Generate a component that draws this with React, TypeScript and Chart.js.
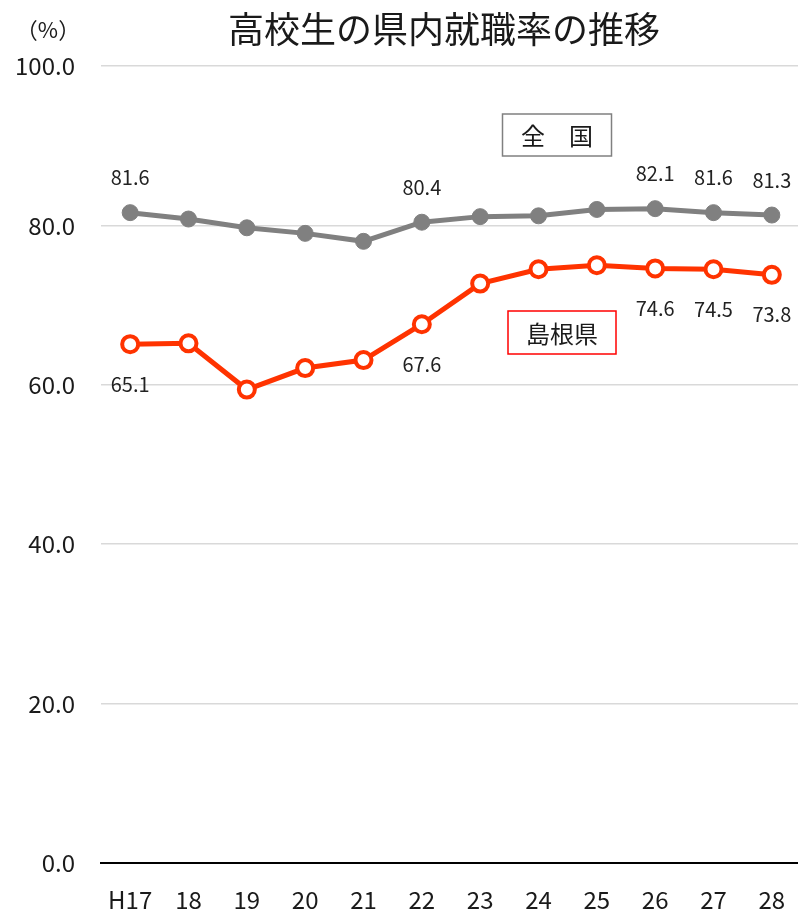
import React, { useEffect, useRef } from "react";
import { Chart, registerables } from "chart.js";

Chart.register(...registerables);

const categories = ["H17", "18", "19", "20", "21", "22", "23", "24", "25", "26", "27", "28"];
const nationalValues = [81.6, 80.8, 79.7, 79.0, 78.0, 80.4, 81.1, 81.2, 82.0, 82.1, 81.6, 81.3];
const shimaneValues = [65.1, 65.2, 59.4, 62.1, 63.1, 67.6, 72.7, 74.5, 75.0, 74.6, 74.5, 73.8];
const labeledIndices = [0, 5, 9, 10, 11];
const yTicks = [0, 20, 40, 60, 80, 100];

const FONT = '"Noto Sans CJK JP", "Noto Sans", sans-serif';

const overlayPlugin = {
  id: "overlay",
  afterDatasetsDraw(chart: any) {
    const ctx = chart.ctx;
    ctx.save();
    // data labels
    ctx.font = `20px ${FONT}`;
    ctx.fillStyle = "#222222";
    ctx.textAlign = "center";
    ctx.textBaseline = "middle";
    chart.data.datasets.forEach((ds: any, di: number) => {
      const meta = chart.getDatasetMeta(di);
      const off = di === 0 ? -35 : 40;
      labeledIndices.forEach((i) => {
        const el = meta.data[i];
        if (!el) return;
        ctx.fillText(Number(ds.data[i]).toFixed(1), el.x, el.y + off);
      });
    });

    // title
    ctx.font = `36px ${FONT}`;
    ctx.fillStyle = "#1a1a1a";
    ctx.fillText("高校生の県内就職率の推移", 444, 29);

    // unit
    ctx.font = `22px ${FONT}`;
    ctx.fillText("（%）", 48, 30);

    // series name boxes
    const box = (cx: number, cy: number, w: number, h: number, color: string, text: string) => {
      ctx.fillStyle = "#ffffff";
      ctx.fillRect(cx - w / 2, cy - h / 2, w, h);
      ctx.strokeStyle = color;
      ctx.lineWidth = 1.5;
      ctx.strokeRect(cx - w / 2, cy - h / 2, w, h);
      ctx.fillStyle = "#1a1a1a";
      ctx.font = `24px ${FONT}`;
      ctx.fillText(text, cx, cy + 1);
    };
    box(557, 135, 109, 42, "#808080", "全　国");
    box(562, 332.5, 108, 43, "#ff0000", "島根県");
    ctx.restore();
  },
};

export default function App() {
  const ref = useRef<HTMLCanvasElement | null>(null);
  useEffect(() => {
    if (!ref.current) return;
    const chart = new Chart(ref.current, {
      type: "line",
      data: {
        labels: categories,
        datasets: [
          {
            label: "全国",
            data: nationalValues,
            borderColor: "#808080",
            backgroundColor: "#808080",
            borderWidth: 5,
            pointRadius: 8,
            pointBackgroundColor: "#808080",
            pointBorderColor: "#808080",
            pointBorderWidth: 1,
            tension: 0,
          },
          {
            label: "島根県",
            data: shimaneValues,
            borderColor: "#ff3300",
            backgroundColor: "#ffffff",
            borderWidth: 5,
            pointRadius: 8,
            pointBackgroundColor: "#ffffff",
            pointBorderColor: "#ff3300",
            pointBorderWidth: 4,
            tension: 0,
          },
        ],
      },
      options: {
        animation: false,
        responsive: false,
        devicePixelRatio: 1,
        layout: { padding: { top: 66, right: 0, left: 0, bottom: 0 } },
        plugins: {
          legend: { display: false },
          title: { display: false },
          tooltip: { enabled: false },
        },
        scales: {
          x: {
            offset: true,
            grid: { display: false, drawTicks: false, offset: true },
            border: { display: true, color: "#000000", width: 2 },
            ticks: {
              padding: 22,
              color: "#1a1a1a",
              font: { family: FONT, size: 24 },
              maxRotation: 0,
              autoSkip: false,
            },
            afterFit(scale: any) {
              scale.height = 48;
            },
          },
          y: {
            min: 0,
            max: 100,
            afterBuildTicks(scale: any) {
              scale.ticks = yTicks.map((v) => ({ value: v }));
            },
            grid: { color: "#d9d9d9", lineWidth: 1.5, drawTicks: false },
            border: { display: false },
            ticks: {
              padding: 26,
              color: "#1a1a1a",
              font: { family: FONT, size: 24 },
              callback: (v: any) => Number(v).toFixed(1),
            },
            afterFit(scale: any) {
              scale.width = 101;
            },
          },
        },
      },
      plugins: [overlayPlugin],
    });
    return () => chart.destroy();
  }, []);
  return (
    <div style={{ position: "absolute", left: 0, top: 0, width: 798, height: 911, overflow: "hidden", background: "#fff" }}>
      <canvas ref={ref} width={813} height={911} style={{ display: "block" }} />
    </div>
  );
}
